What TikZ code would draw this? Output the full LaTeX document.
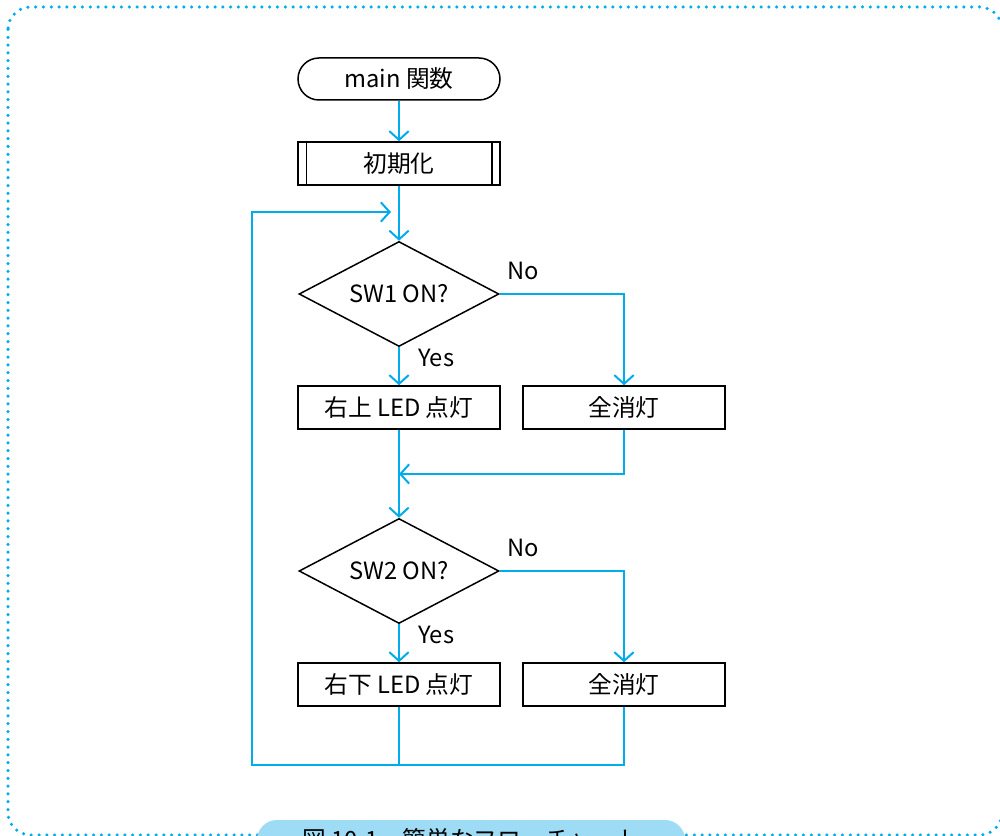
\documentclass[tikz,border=0pt]{standalone}
\usepackage{fontspec}
\setmainfont{Noto Sans CJK JP}
\usetikzlibrary{shapes.geometric,arrows.meta}

\definecolor{flowcyan}{RGB}{0,172,236}
\definecolor{capblue}{RGB}{158,220,246}

\tikzset{
  box/.style={draw, line width=0.03cm, minimum width=4.04cm, minimum height=0.86cm, inner sep=0pt},
  terminal/.style={box, rounded corners=0.42cm, minimum height=0.84cm},
  decision/.style={draw, line width=0.03cm, diamond, aspect=1.9, inner sep=0pt, minimum width=4cm, minimum height=2.1cm},
  flow/.style={draw=flowcyan, line width=0.04cm},
  tag/.style={anchor=west, inner sep=0pt}
}

\begin{document}
\begin{tikzpicture}[font=\fontsize{13.5}{16}\selectfont, >={Straight Barb[length=5pt,width=11pt]}]
        \useasboundingbox (0,0) rectangle (20,-16.72);

        % Frame
        \draw[flowcyan, line width=0.07cm, line cap=round, dash pattern=on 0pt off 0.156cm, rounded corners=0.45cm]
            (0.16,-0.14) rectangle (20.04,-16.70);
        \node[fill=capblue, rounded corners=0.4cm, minimum width=8.56cm, minimum height=0.8cm, inner sep=0pt]
            (caption) at (9.42,-16.80) {図 10-1　簡単なフローチャート};

        % Nodes
        \node[terminal] (main) at (7.98,-1.58) {main 関数};
        \node[box] (init) at (7.98,-3.27) {初期化};
        \draw[line width=0.03cm] ([xshift=0.18cm]init.north west) -- ([xshift=0.18cm]init.south west);
        \draw[line width=0.03cm] ([xshift=-0.18cm]init.north east) -- ([xshift=-0.18cm]init.south east);

        \node[decision] (sw1) at (7.98,-5.88) {SW1 ON?};
        \node[box] (led1) at (7.98,-8.15) {右上 LED 点灯};
        \node[box] (off1) at (12.48,-8.15) {全消灯};

        \node[decision] (sw2) at (7.98,-11.42) {SW2 ON?};
        \node[box] (led2) at (7.98,-13.69) {右下 LED 点灯};
        \node[box] (off2) at (12.48,-13.69) {全消灯};

        \coordinate (loopin) at (7.82,-4.24);
        \coordinate (merge1) at (7.98,-9.48);
        \coordinate (loopcorner) at (5.04,-15.30);

        % Connectors
        \draw[flow, ->] (main) -- (init);
        \draw[flow, ->] (init) -- (sw1);
        \draw[flow, ->] (sw1) -- (led1);
        \draw[flow, ->] (sw1.east) -| (off1.north);
        \draw[flow, ->] (off1.south) |- (merge1);
        \draw[flow, ->] (led1) -- (sw2);
        \draw[flow, ->] (sw2) -- (led2);
        \draw[flow, ->] (sw2.east) -| (off2.north);
        \draw[flow] (led2.south) -- (led2.south |- loopcorner);
        \draw[flow, ->] (off2.south) |- (loopcorner) |- (loopin);

        % Labels
        \node[tag] (no1) at ([xshift=0.14cm,yshift=0.46cm]sw1.east) {No};
        \node[tag] (yes1) at ([xshift=0.38cm,yshift=-0.22cm]sw1.south) {Yes};
        \node[tag] (no2) at ([xshift=0.14cm,yshift=0.46cm]sw2.east) {No};
        \node[tag] (yes2) at ([xshift=0.38cm,yshift=-0.22cm]sw2.south) {Yes};
    \end{tikzpicture}
\end{document}
